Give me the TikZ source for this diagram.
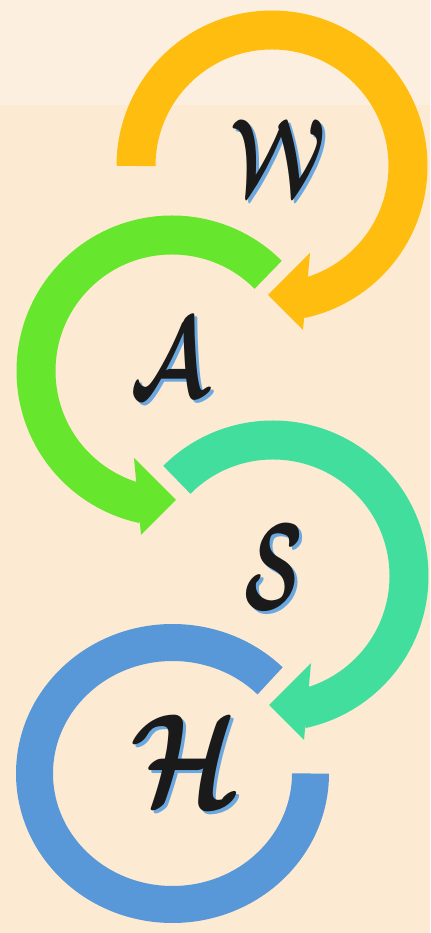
\documentclass[tikz,border=0pt]{standalone}
\usepackage{amsmath,amssymb}
\usepackage{bm}
\usepackage{tikz}
\usetikzlibrary{positioning}
\usepackage{xcolor}

\definecolor{bgpeach}{HTML}{FCEAD2}
\definecolor{bgtop}{HTML}{FDEFE0}
\definecolor{ringyellow}{HTML}{FFBD0F}
\definecolor{ringgreen}{HTML}{66E62D}
\definecolor{ringteal}{HTML}{42DE9E}
\definecolor{ringblue}{HTML}{5898D8}
\definecolor{shadowblue}{HTML}{6CA8E0}
\definecolor{letterink}{HTML}{1A1A1A}

\begin{document}
\begin{tikzpicture}[
    x=0.02cm, y=0.02cm,
    ring/.style={line width=0.78cm, line cap=butt},
    letter/.style={text=letterink, inner sep=0pt},
    shadow/.style={text=shadowblue, inner sep=0pt}
]

% Background
\fill[bgpeach] (0,0) rectangle (430,933);
\fill[bgtop] (0,828) rectangle (430,933);
\useasboundingbox (0,0) rectangle (430,933);

% Ring centres
\coordinate (cW) at (272,767);
\coordinate (cA) at (172,562);
\coordinate (cS) at (273,357);
\coordinate (cH) at (172.5,159.5);

% Yellow ring (W), clockwise, arrow at the bottom
\draw[ring, ringyellow] (cW) ++(180:136) arc[start angle=180, end angle=-78, radius=136];
\fill[ringyellow] (cW) ++(38,-87) -- ++(-42,-42) -- ++(35,-35) -- cycle;

% Green ring (A), anticlockwise, arrow at the bottom
\draw[ring, ringgreen] (cA) ++(45:136) arc[start angle=45, end angle=258, radius=136];
\fill[ringgreen] (cA) ++(-38,-87) -- ++(42,-42) -- ++(-35,-35) -- cycle;

% Teal ring (S), clockwise, arrow at the bottom
\draw[ring, ringteal] (cS) ++(135:136) arc[start angle=135, end angle=-78, radius=136];
\fill[ringteal] (cS) ++(38,-87) -- ++(-42,-42) -- ++(35,-35) -- cycle;

% Blue ring (H), open to the right, no arrow
\draw[ring, ringblue, line width=0.74cm] (cH) ++(45:138 and 131)
    arc[start angle=45, end angle=360, x radius=138, y radius=131];

% Letters with their shadows
\node[shadow, xscale=4.35, yscale=6.1] (wshadow) at (281,773) {$\bm{\mathcal{W}}$};
\node[letter, xscale=4.35, yscale=6.1] (w) at (278,776) {$\bm{\mathcal{W}}$};

\node[shadow, xscale=4.75, yscale=6.4] (ashadow) at (172,571) {$\bm{\mathcal{A}}$};
\node[letter, xscale=4.75, yscale=6.4] (a) at (169,574) {$\bm{\mathcal{A}}$};

\node[shadow, xscale=4.35, yscale=7] (sshadow) at (277,362.5) {$\bm{\mathcal{S}}$};
\node[letter, xscale=4.35, yscale=7] (s) at (274,365.5) {$\bm{\mathcal{S}}$};

\node[shadow, xscale=6.4, yscale=7.5] (hshadow) at (189.5,170) {$\bm{\mathcal{H}}$};
\node[letter, xscale=6.4, yscale=7.5] (h) at (186.5,173) {$\bm{\mathcal{H}}$};

\end{tikzpicture}
\end{document}
